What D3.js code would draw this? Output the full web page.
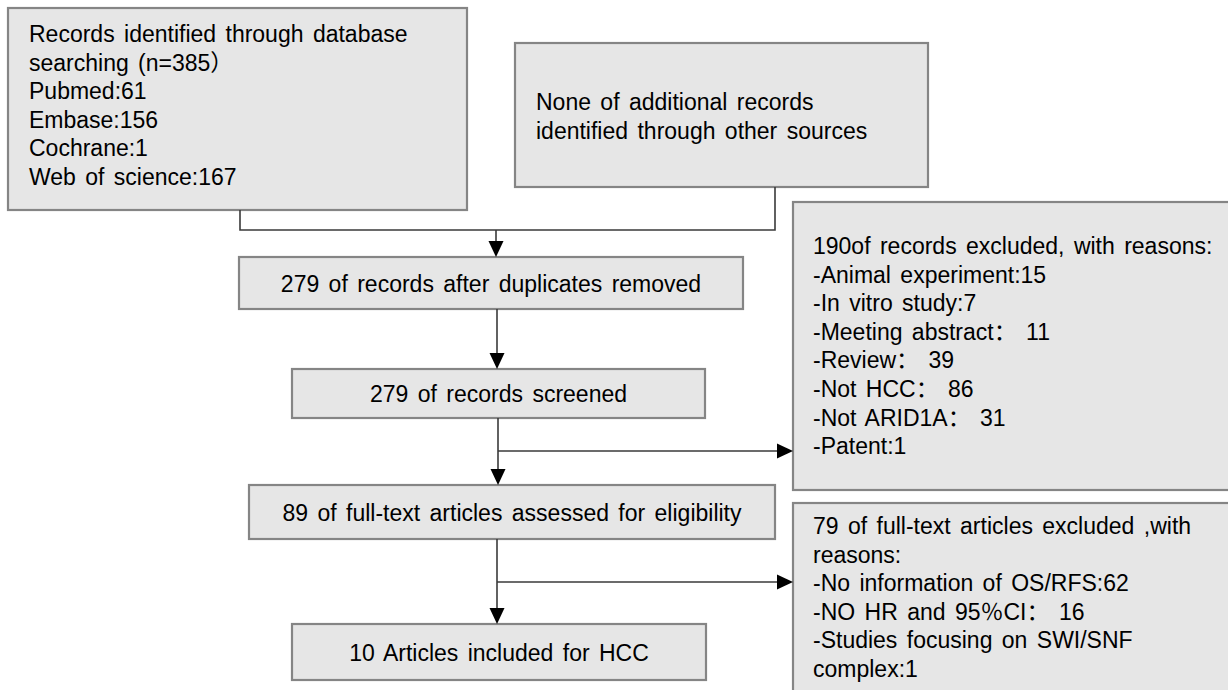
<!DOCTYPE html>
<html>
<head>
<meta charset="utf-8">
<script src="https://cdn.jsdelivr.net/npm/d3@7"></script>
<style>
  html, body { margin: 0; padding: 0; background: #fff; }
  svg text { font-family: "Liberation Sans", Arial, "Noto Sans CJK SC", sans-serif; font-size: 23px; word-spacing: 3px; fill: #000; }
</style>
</head>
<body>
<div id="chart"></div>
<script>
// Text of every box, one entry per line
const identified = ["Records identified through database", "searching (n=385\uFF09", "Pubmed:61", "Embase:156", "Cochrane:1", "Web of science:167"];
const otherSources = ["None of additional records", "identified through other sources"];
const afterDuplicates = ["279 of records after duplicates removed"];
const screened = ["279 of records screened"];
const assessed = ["89 of full-text articles assessed for eligibility"];
const included = ["10 Articles included for HCC"];
const excludedRecords = ["190of records excluded, with reasons:", "-Animal experiment:15", "-In vitro study:7",
  "-Meeting abstract\uFF1A 11", "-Review\uFF1A 39", "-Not HCC\uFF1A 86", "-Not ARID1A\uFF1A 31", "-Patent:1"];
const excludedArticles = ["79 of full-text articles excluded ,with", "reasons:", "-No information of OS/RFS:62",
  "-NO HR and 95\uFF05CI\uFF1A 16", "-Studies focusing on SWI/SNF", "complex:1"];

const W = 1228, H = 690;

const C = {
  fill: '#e6e6e6',
  border: '#858585',
  border_width: 2.2,
  edge_color: '#3a3a3a',
  edge_width: 1.6,
  line_height: 28.6,
  arrow_len: 16,
  arrow_half: 7.5,
};

// Layout of the boxes (pixels), texts are joined in by id
const layout = [
  {id: 'identified', lines: identified, x: 8, y: 8, w: 459, h: 202, align: 'left', pad: 21, first: 34},
  {id: 'other', lines: otherSources, x: 515, y: 43, w: 413, h: 144, align: 'left', pad: 21, first: 67},
  {id: 'dup', lines: afterDuplicates, x: 239, y: 257, w: 504, h: 52, align: 'center'},
  {id: 'screened', lines: screened, x: 292, y: 369, w: 413, h: 49, align: 'center'},
  {id: 'assessed', lines: assessed, x: 249, y: 485, w: 526, h: 54, align: 'center'},
  {id: 'included', lines: included, x: 292, y: 624, w: 414, h: 56, align: 'center'},
  {id: 'exclRec', lines: excludedRecords, x: 793, y: 202, w: 460, h: 288, align: 'left', pad: 20, first: 52},
  {id: 'exclArt', lines: excludedArticles, x: 793, y: 503, w: 460, h: 220, align: 'left', pad: 20, first: 31},
];

// Connectors: polylines, arrow drawn at the last point if arrow is true
const edges = [
  {pts: [[240, 210], [240, 230], [775, 230], [775, 187]], arrow: false},
  {pts: [[496, 230], [496, 257]], arrow: true},
  {pts: [[497, 309], [497, 369]], arrow: true},
  {pts: [[498, 418], [498, 485]], arrow: true},
  {pts: [[498, 451], [793, 451]], arrow: true},
  {pts: [[497, 539], [497, 624]], arrow: true},
  {pts: [[497, 582], [793, 582]], arrow: true},
];

const svg = d3.select('#chart').append('svg')
  .attr('width', W)
  .attr('height', H)
  .attr('viewBox', `0 0 ${W} ${H}`);

// Boxes
const boxes = svg.selectAll('g.box')
  .data(layout)
  .join('g')
  .attr('class', 'box')
  .attr('transform', d => `translate(${d.x},${d.y})`);

boxes.append('rect')
  .attr('width', d => d.w)
  .attr('height', d => d.h)
  .attr('fill', C.fill)
  .attr('stroke', C.border)
  .attr('stroke-width', C.border_width);

boxes.each(function(d){
  const g = d3.select(this);
  const text = g.append('text');
  if(d.align === 'center'){
    text.attr('text-anchor', 'middle')
      .attr('x', d.w / 2)
      .attr('y', d.h / 2 + 8.5)
      .text(d.lines[0]);
  } else {
    text.selectAll('tspan')
      .data(d.lines)
      .join('tspan')
      .attr('x', d.pad)
      .attr('y', (l, i) => d.first + i * C.line_height)
      .text(l => l);
  }
});

// Connectors
const line = d3.line();

svg.selectAll('path.edge')
  .data(edges)
  .join('path')
  .attr('class', 'edge')
  .attr('fill', 'none')
  .attr('stroke', C.edge_color)
  .attr('stroke-width', C.edge_width)
  .attr('d', d => {
    if(!d.arrow) return line(d.pts);
    // stop the line where the arrow head starts
    const pts = d.pts.map(p => p.slice());
    const [a, b] = pts.slice(-2);
    const len = Math.hypot(b[0] - a[0], b[1] - a[1]);
    const ux = (b[0] - a[0]) / len, uy = (b[1] - a[1]) / len;
    pts[pts.length - 1] = [b[0] - ux * (C.arrow_len - 1), b[1] - uy * (C.arrow_len - 1)];
    return line(pts);
  });

// Arrow heads
svg.selectAll('path.head')
  .data(edges.filter(d => d.arrow))
  .join('path')
  .attr('class', 'head')
  .attr('fill', '#000')
  .attr('d', d => {
    const [a, b] = d.pts.slice(-2);
    const len = Math.hypot(b[0] - a[0], b[1] - a[1]);
    const ux = (b[0] - a[0]) / len, uy = (b[1] - a[1]) / len;
    const bx = b[0] - ux * C.arrow_len, by = b[1] - uy * C.arrow_len;
    return line([
      b,
      [bx - uy * C.arrow_half, by + ux * C.arrow_half],
      [bx + uy * C.arrow_half, by - ux * C.arrow_half],
    ]) + 'Z';
  });
</script>
</body>
</html>
